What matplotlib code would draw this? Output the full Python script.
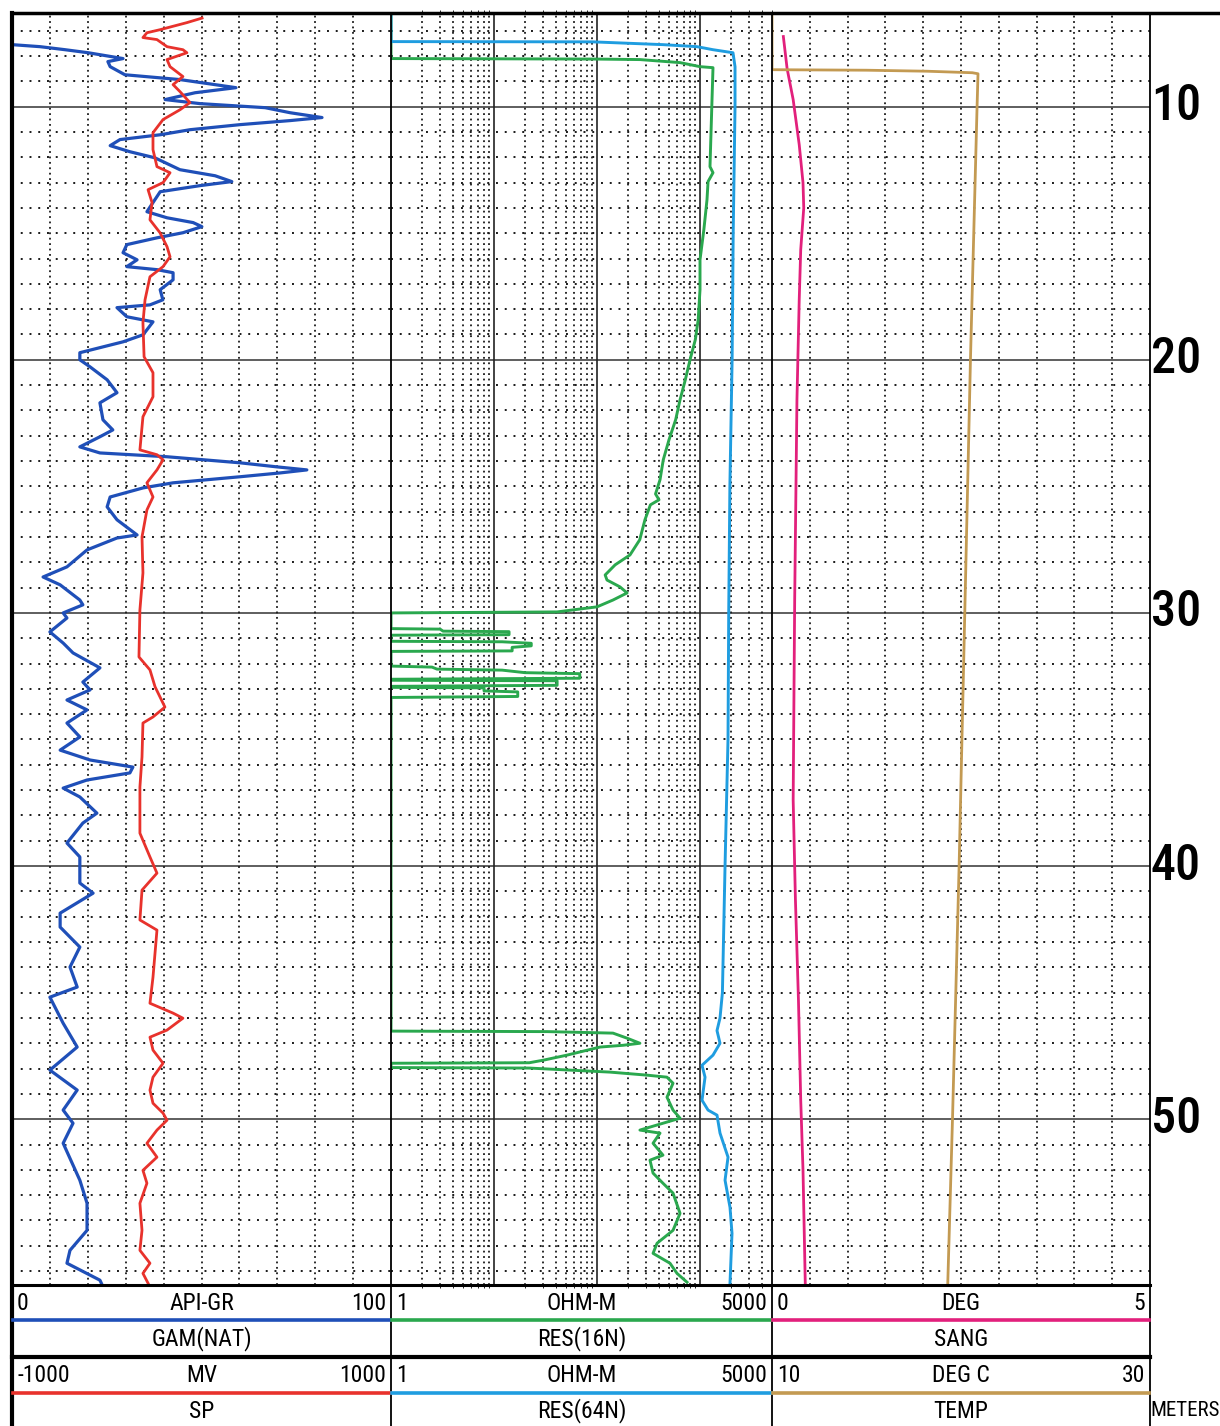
import matplotlib.pyplot as plt

# ---- curve data (depth in meters) ----
gr_depth = [6.28, 7.55, 7.63, 7.75, 7.87, 7.98, 8.10, 8.22, 8.42, 8.74,
            8.93, 9.13, 9.25, 9.45, 9.72, 9.88, 10.04, 10.24, 10.43, 10.55,
            10.71, 10.91, 11.11, 11.30, 11.54, 11.78, 12.02, 12.49, 12.73, 12.96,
            13.12, 13.36, 13.79, 14.15, 14.39, 14.58, 14.74, 14.98, 15.18, 15.45,
            15.77, 16.05, 16.32, 16.44, 16.56, 16.84, 17.23, 17.63, 17.83, 17.94,
            18.30, 18.50, 18.81, 19.01, 19.29, 19.49, 19.72, 20.00, 20.28, 20.79,
            21.30, 21.70, 22.37, 22.77, 23.04, 23.44, 23.68, 23.83, 24.07, 24.23,
            24.35, 24.47, 24.62, 24.86, 25.06, 25.42, 25.81, 26.32, 26.92, 27.04,
            27.51, 28.18, 28.58, 28.89, 29.49, 29.68, 30.00, 30.20, 30.75, 31.19,
            31.58, 32.17, 32.73, 33.04, 33.44, 33.83, 34.35, 34.90, 35.42, 35.81,
            36.09, 36.32, 36.60, 36.92, 37.27, 37.91, 38.30, 39.09, 39.64, 40.67,
            41.07, 41.86, 42.41, 43.20, 43.99, 44.78, 45.18, 46.21, 47.15, 48.06,
            48.85, 49.64, 50.16, 50.95, 52.41, 53.32, 54.39, 55.18, 55.69, 56.36,
            56.52]
gr_api = [0, 0, 7.4, 14.0, 20.1, 24.5, 29.3, 25.3, 25.9, 29.8,
          44.3, 53.6, 59.1, 48.3, 40.4, 49.6, 66.8, 73.4, 81.8, 73.4,
          60.2, 47.0, 39.1, 28.5, 25.9, 31.1, 37.7, 44.3, 53.6, 58.0,
          49.6, 39.1, 37.2, 35.6, 40.9, 47.8, 50.1, 45.1, 38.3, 30.3,
          29.3, 33.0, 30.3, 38.3, 42.5, 42.5, 39.1, 39.8, 36.4, 27.7,
          30.3, 37.2, 35.6, 34.6, 29.3, 24.0, 17.9, 17.9, 20.6, 25.1,
          27.7, 23.2, 24.0, 26.6, 23.2, 17.9, 23.2, 40.9, 60.2, 69.9,
          77.8, 70.7, 60.2, 42.5, 34.6, 25.9, 25.1, 27.7, 33.0, 27.7,
          19.8, 14.5, 8.2, 12.7, 17.9, 18.7, 13.5, 14.5, 10.0, 13.5,
          16.1, 23.2, 18.7, 20.6, 14.5, 19.8, 14.5, 17.9, 12.7, 20.6,
          31.9, 31.1, 19.8, 13.5, 17.9, 22.4, 18.7, 14.5, 17.9, 17.9,
          21.4, 12.7, 12.7, 17.9, 15.3, 17.2, 10.0, 13.5, 17.2, 10.0,
          17.2, 13.5, 16.1, 13.5, 17.9, 19.8, 19.8, 15.3, 14.5, 23.2,
          23.7]

sp_depth = [6.50, 6.68, 6.96, 7.08, 7.27, 7.35, 7.63, 7.75, 7.87, 8.14,
            8.42, 8.81, 9.13, 9.41, 9.84, 10.12, 10.51, 11.03, 11.70, 12.37,
            12.61, 13.00, 13.28, 13.79, 14.47, 14.98, 15.53, 15.93, 16.32, 16.72,
            17.63, 18.54, 19.88, 20.51, 21.46, 22.25, 23.56, 23.75, 23.95, 24.35,
            24.86, 25.14, 25.42, 25.93, 27.00, 28.42, 29.88, 31.74, 32.25, 32.92,
            33.72, 34.11, 34.35, 35.69, 36.88, 38.70, 39.64, 40.28, 40.95, 42.13,
            42.53, 44.39, 45.42, 45.81, 46.01, 46.48, 46.76, 47.27, 47.79, 48.34,
            48.85, 49.37, 49.76, 50.04, 50.43, 50.95, 51.50, 52.02, 52.53, 53.32,
            54.39, 55.18, 55.69, 56.09, 56.48]
sp_mv = [3, -77, -219, -288, -309, -235, -182, -98, -77, -182,
         -166, -98, -150, -113, -61, -113, -203, -256, -256, -235,
         -166, -203, -282, -261, -272, -219, -182, -166, -203, -272,
         -298, -309, -303, -256, -256, -309, -325, -235, -203, -235,
         -288, -272, -256, -288, -314, -309, -325, -330, -272, -245,
         -193, -256, -309, -314, -325, -325, -272, -235, -314, -325,
         -235, -256, -272, -150, -98, -182, -272, -256, -203, -256,
         -272, -256, -203, -182, -235, -288, -235, -309, -288, -325,
         -314, -325, -272, -309, -282]

res16_depth = [6.30, 8.10, 8.12, 8.14, 8.26, 8.42, 8.46, 9.72, 12.37, 12.61,
               12.96, 13.68, 14.86, 16.05, 17.23, 18.42, 19.21, 20.00, 20.79, 21.58,
               22.37, 23.16, 23.95, 24.74, 25.30, 25.53, 25.73, 26.32, 27.11, 27.71,
               28.10, 28.50, 28.70, 28.97, 29.21, 29.49, 29.76, 29.96, 30.00, 30.62,
               30.64, 30.72, 30.74, 30.86, 30.88, 31.12, 31.14, 31.20, 31.30, 31.36,
               31.50, 31.52, 32.10, 32.14, 32.22, 32.26, 32.36, 32.40, 32.58, 32.62,
               32.66, 32.68, 32.86, 32.90, 32.94, 32.96, 33.08, 33.12, 33.30, 33.34,
               46.52, 46.54, 46.60, 46.80, 47.00, 47.08, 47.15, 47.47, 47.67, 47.77,
               47.79, 47.96, 47.98, 48.14, 48.26, 48.34, 48.58, 49.13, 49.64, 49.96,
               50.43, 50.55, 50.95, 51.42, 51.62, 52.13, 52.53, 52.92, 53.72, 54.39,
               54.90, 55.30, 55.69, 56.09, 56.44]
res16_ohm = [1, 1, 100, 261, 640, 1000, 1337, 1308, 1250, 1337,
             1197, 1169, 1090, 1000, 1000, 960, 900, 800, 720, 640,
             580, 500, 440, 409, 370, 400, 330, 292, 260, 209,
             150, 120, 125, 167, 196, 143, 100, 41, 1, 1,
             3, 3.2, 14, 14, 1, 1, 12, 23, 23, 15,
             15, 1, 1, 2.5, 2.8, 12, 20, 68, 68, 1,
             1, 41, 41, 1, 1, 8, 8, 17, 17, 1,
             1, 33, 143, 196, 261, 179, 107, 51, 30, 22,
             1, 1, 22, 134, 306, 478, 547, 478, 547, 640,
             261, 409, 350, 437, 327, 350, 437, 547, 640, 547,
             383, 350, 511, 598, 748]

res64_depth = [6.30, 7.43, 7.44, 7.55, 7.63, 7.75, 7.87, 8.42, 10.0, 15.0,
               20.0, 25.0, 30.0, 35.0, 40.0, 45.0, 46.0, 46.5, 47.0, 47.47,
               47.87, 48.34, 49.25, 49.64, 49.84, 50.55, 51.50, 52.41, 53.48, 54.51,
               56.48]
res64_ohm = [1, 1, 91, 437, 935, 1337, 2090, 2188, 2188, 2100,
             2050, 1950, 1900, 1870, 1750, 1650, 1564, 1462, 1564, 1337,
             1046, 1119, 1046, 1197, 1462, 1564, 1871, 1750, 1955, 2045,
             1955]

sang_depth = [7.23, 8.5, 9.72, 11.5, 13.0, 14.0, 15.65, 17.63, 21.58, 29.49,
              37.39, 41.34, 45.30, 49.25, 52.0, 56.48]
sang_deg = [0.15, 0.20, 0.28, 0.36, 0.41, 0.42, 0.38, 0.36, 0.33, 0.30,
            0.28, 0.31, 0.35, 0.38, 0.41, 0.44]

temp_depth = [6.30, 8.54, 8.56, 8.60, 8.66, 8.70, 10.0, 20.0, 30.0, 40.0,
              50.0, 56.48]
temp_degc = [10.0, 10.0, 15.0, 18.2, 20.6, 20.9, 20.85, 20.5, 20.2, 19.9,
             19.55, 19.3]

depth_labels = [10, 20, 30, 40, 50]

# ---- layout ----
W, H = 1220, 1426
TOP, BOT = 6.3, 56.55
plt.rcParams['font.family'] = ['Liberation Sans Narrow', 'Roboto Condensed',
                               'DejaVu Sans Condensed', 'Open Sans Condensed',
                               'DejaVu Sans']

C_GR = '#1f4fb8'
C_SP = '#e8322c'
C_R16 = '#2aa84e'
C_R64 = '#1f9de0'
C_SANG = '#e2207c'
C_TEMP = '#c39a52'

fig = plt.figure(figsize=(W / 100, H / 100), dpi=100)


def box(x0, x1, y0, y1):
    return [x0 / W, 1 - y1 / H, (x1 - x0) / W, (y1 - y0) / H]


def bare(ax):
    ax.set_xticks([])
    ax.set_yticks([])
    for s in ax.spines.values():
        s.set_visible(False)


def depth_grid(ax):
    for d in range(7, 57):
        if d % 10 == 0:
            ax.axhline(d, color='#333333', lw=1.1, zorder=1)
        else:
            ax.axhline(d, color='#1a1a1a', lw=1.4, ls=(0, (1, 3.5)), zorder=1)


def linear_grid(ax, lo, hi):
    step = (hi - lo) / 10
    for i in range(1, 10):
        ax.axvline(lo + i * step, color='#1a1a1a', lw=1.3, ls=(0, (1, 2)), zorder=1)


# track 1: GR + SP
ax1 = fig.add_axes(box(12, 391, 13, 1285))
ax1.set_xlim(0, 100)
ax1.set_ylim(BOT, TOP)
depth_grid(ax1)
linear_grid(ax1, 0, 100)
ax1.plot(gr_api, gr_depth, color=C_GR, lw=2.3, zorder=3)
ax1b = ax1.twiny()
ax1b.set_xlim(-1000, 1000)
ax1b.plot(sp_mv, sp_depth, color=C_SP, lw=2.0, zorder=3)
bare(ax1)
bare(ax1b)

# track 2: resistivities (log)
ax2 = fig.add_axes(box(391, 772, 13, 1285))
ax2.set_xscale('log')
ax2.set_xlim(1, 5000)
ax2.set_ylim(BOT, TOP)
depth_grid(ax2)
for dec in [1, 10, 100, 1000]:
    for k in range(2, 10):
        if dec * k < 5000:
            ax2.axvline(dec * k, color='#1a1a1a', lw=1.3, ls=(0, (1, 2)), zorder=1)
    if dec > 1:
        ax2.axvline(dec, color='#222222', lw=1.2, zorder=1)
ax2.plot(res16_ohm, res16_depth, color=C_R16, lw=2.1, zorder=3)
ax2b = ax2.twiny()
ax2b.set_xscale('log')
ax2b.set_xlim(1, 5000)
ax2b.plot(res64_ohm, res64_depth, color=C_R64, lw=2.1, zorder=3)
bare(ax2)
bare(ax2b)

# track 3: SANG + TEMP
ax3 = fig.add_axes(box(772, 1150, 13, 1285))
ax3.set_xlim(0, 5)
ax3.set_ylim(BOT, TOP)
depth_grid(ax3)
linear_grid(ax3, 0, 5)
ax3.plot(sang_deg, sang_depth, color=C_SANG, lw=2.0, zorder=3)
ax3b = ax3.twiny()
ax3b.set_xlim(10, 30)
ax3b.plot(temp_degc, temp_depth, color=C_TEMP, lw=2.0, zorder=3)
bare(ax3)
bare(ax3b)

for d in depth_labels:
    ax3.text(1.002, d, str(d), transform=ax3.get_yaxis_transform(),
             ha='left', va='center', fontsize=36, fontweight='medium',
             clip_on=False)

# ---- frame and header (pixel coordinates) ----
ov = fig.add_axes([0, 0, 1, 1])
ov.set_xlim(0, W)
ov.set_ylim(H, 0)
ov.axis('off')
ov.patch.set_alpha(0)

ov.plot([12, W], [13, 13], color='black', lw=2.5)
ov.plot([12, 12], [13, H], color='black', lw=3)
for x in [391, 772, 1150]:
    ov.plot([x, x], [13, H], color='black', lw=1.3)
ov.plot([12, 1150], [1285, 1285], color='black', lw=2.2)
ov.plot([12, 1150], [1357, 1357], color='black', lw=3)

headers = [
    (12, 391, '0', 'API-GR', '100', 'GAM(NAT)', C_GR, '-1000', 'MV', '1000', 'SP', C_SP),
    (391, 772, '1', 'OHM-M', '5000', 'RES(16N)', C_R16, '1', 'OHM-M', '5000', 'RES(64N)', C_R64),
    (772, 1150, '0', 'DEG', '5', 'SANG', C_SANG, '10', 'DEG C', '30', 'TEMP', C_TEMP),
]
for x0, x1, lo1, u1, hi1, n1, c1, lo2, u2, hi2, n2, c2 in headers:
    xm = (x0 + x1) / 2
    ov.plot([x0 + 1, x1 - 1], [1320, 1320], color=c1, lw=2.6)
    ov.plot([x0 + 1, x1 - 1], [1393, 1393], color=c2, lw=2.6)
    for y, lo, u, hi in [(1303, lo1, u1, hi1), (1376, lo2, u2, hi2)]:
        ov.text(x0 + 5, y, lo, ha='left', va='center', fontsize=17)
        ov.text(xm, y, u, ha='center', va='center', fontsize=17)
        ov.text(x1 - 5, y, hi, ha='right', va='center', fontsize=17)
    ov.text(xm, 1339, n1, ha='center', va='center', fontsize=17)
    ov.text(xm, 1411, n2, ha='center', va='center', fontsize=17)

ov.text(1185, 1411, 'METERS', ha='center', va='center', fontsize=15)

fig.savefig('out.png', dpi=100)
